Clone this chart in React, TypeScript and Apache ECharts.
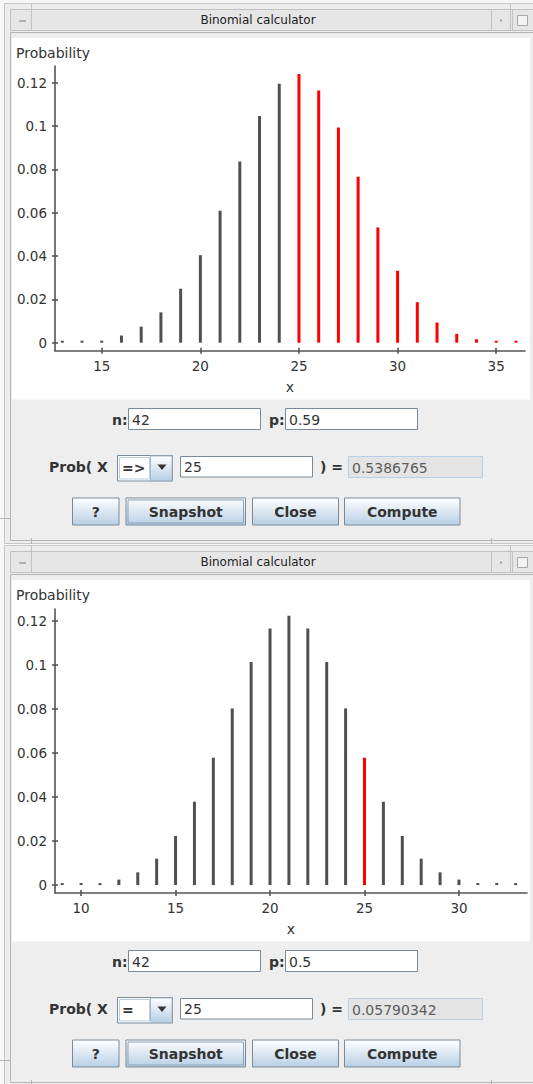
import React, { useEffect, useRef } from "react";
import * as echarts from "echarts";

// ---------- data ----------
const topX = [13, 14, 15, 16, 17, 18, 19, 20, 21, 22, 23, 24, 25, 26, 27, 28, 29, 30, 31, 32, 33, 34, 35, 36];
const topProb = [0.0001, 0.0003, 0.0009, 0.0033, 0.0074, 0.014, 0.0249, 0.0404, 0.0609, 0.0836, 0.1046, 0.1195, 0.124, 0.1164, 0.0993, 0.0766, 0.0532, 0.0332, 0.0187, 0.0093, 0.0041, 0.0016, 0.0005, 0.0002];
const botX = [9, 10, 11, 12, 13, 14, 15, 16, 17, 18, 19, 20, 21, 22, 23, 24, 25, 26, 27, 28, 29, 30, 31, 32, 33];
const botProb = [0.0001, 0.0003, 0.0009, 0.0025, 0.0058, 0.012, 0.0223, 0.0379, 0.0579, 0.0803, 0.1014, 0.1166, 0.1224, 0.1166, 0.1014, 0.0803, 0.0579, 0.0379, 0.0223, 0.012, 0.0058, 0.0025, 0.0009, 0.0003, 0.0001];
const selectedX = 25;

const yTicks = [0, 0.02, 0.04, 0.06, 0.08, 0.1, 0.12];
const topXTicks = [15, 20, 25, 30, 35];
const botXTicks = [10, 15, 20, 25, 30];

const windowTitle = "Binomial calculator";
const yName = "Probability";
const xName = "x";
const nValues = ["42", "42"];
const pValues = ["0.59", "0.5"];
const opValues = ["=>", "="];
const xValues = ["25", "25"];
const resultValues = ["0.5386765", "0.05790342"];
const buttonLabels = ["?", "Snapshot", "Close", "Compute"];

// ---------- style ----------
const FONT = "'DejaVu Sans', 'Noto Sans', sans-serif";
const GRAY = "#505050";
const RED = "#ff0000";
const AXIS = "#555555";
const TXT = "#333333";
const OFFSET = 542;

function chrome(dy: number) {
  const L = (x1: number, y1: number, x2: number, y2: number, stroke = "#c2c2c2", lw = 1) => ({
    type: "line",
    z: -10,
    shape: { x1, y1: y1 + dy, x2, y2: y2 + dy },
    style: { stroke, lineWidth: lw },
  });
  return [
    { type: "rect", z: -20, shape: { x: 4.5, y: 3.5 + dy, width: 540, height: 540 }, style: { fill: "#ededed", stroke: "#c6c6c6", lineWidth: 1 } },
    { type: "rect", z: -19, shape: { x: 10.5, y: 9.5 + dy, width: 530, height: 21 }, style: { fill: "#e6e6e6", stroke: "#c0c0c0", lineWidth: 1 } },
    L(31.5, 3.5, 31.5, 30.5),
    L(491.5, 9.5, 491.5, 30.5),
    L(510.5, 3.5, 510.5, 30.5),
    L(512.5, 9.5, 512.5, 30.5),
    L(19, 21, 26, 21, "#9b9b9b", 1.5),
    { type: "rect", z: -10, shape: { x: 500, y: 19.5 + dy, width: 2, height: 2 }, style: { fill: "#a0a0a0" } },
    { type: "rect", z: -10, shape: { x: 517.5, y: 15.5 + dy, width: 10, height: 10 }, style: { fill: "#f3f3f3", stroke: "#a8a8a8", lineWidth: 1 } },
    {
      type: "text",
      z: -10,
      x: 258,
      y: 20 + dy,
      style: { text: windowTitle, fill: "#222", fontSize: 12, fontFamily: FONT, align: "center", verticalAlign: "middle" },
    },
    { type: "rect", z: -18, shape: { x: 10.5, y: 32.5 + dy, width: 530, height: 508 }, style: { fill: "#eeeeee", stroke: "#b4b4b4", lineWidth: 1 } },
    { type: "rect", z: -17, shape: { x: 12, y: 38 + dy, width: 518, height: 361.5 }, style: { fill: "#ffffff" } },
    L(0, 518.5, 10, 518.5, "#b4b4b4"),
    L(31.5, 538, 31.5, 544, "#b4b4b4"),
    L(491.5, 538, 491.5, 544, "#b4b4b4"),
    {
      type: "text",
      z: 5,
      x: 16,
      y: 53 + dy,
      style: { text: yName, fill: TXT, fontSize: 14, fontFamily: FONT, align: "left", verticalAlign: "middle" },
    },
  ];
}

function controls(i: number, dy: number) {
  const lab = (x: number, y: number, t: string, align = "right") => ({
    type: "text",
    x,
    y: y + dy,
    style: { text: t, fill: TXT, fontSize: 14, fontWeight: "bold", fontFamily: FONT, align, verticalAlign: "middle" },
  });
  const field = (x: number, y: number, w: number, h: number, t: string, disabled = false) => [
    {
      type: "rect",
      shape: { x: x + 0.5, y: y + 0.5 + dy, width: w, height: h },
      style: { fill: disabled ? "#e4e4e4" : "#ffffff", stroke: disabled ? "#b8cfe5" : "#7a8a99", lineWidth: 1 },
    },
    {
      type: "text",
      x: x + 4,
      y: y + h / 2 + 1 + dy,
      style: { text: t, fill: disabled ? "#5c5c5c" : TXT, fontSize: 14, fontFamily: FONT, align: "left", verticalAlign: "middle" },
    },
  ];
  const grad = () =>
    new echarts.graphic.LinearGradient(0, 0, 0, 1, [
      { offset: 0, color: "#ffffff" },
      { offset: 1, color: "#b8cfe5" },
    ]);
  const btnGeom = [
    [72.5, 46.5],
    [126, 119.5],
    [252.5, 86],
    [344.5, 115.5],
  ];
  const els: any[] = [];
  els.push(lab(127.5, 419.5, "n:"));
  els.push(...field(128, 408, 132, 21, nValues[i]));
  els.push(lab(284.5, 419.5, "p:"));
  els.push(...field(285, 408, 132, 21, pValues[i]));
  els.push(lab(49, 467, "Prob( X", "left"));
  // combo box
  els.push({ type: "rect", shape: { x: 117.5, y: 455.5 + dy, width: 55, height: 25.5 }, style: { fill: "#ffffff", stroke: "#7a8a99", lineWidth: 1 } });
  els.push({ type: "rect", shape: { x: 119.5, y: 457.5 + dy, width: 30, height: 21.5 }, style: { fill: "#ffffff", stroke: "#b8cfe5", lineWidth: 1 } });
  els.push({ type: "rect", shape: { x: 150.5, y: 456 + dy, width: 21.5, height: 24.5 }, style: { fill: grad(), stroke: "#a3b8cc", lineWidth: 1 } });
  els.push({ type: "polygon", shape: { points: [[157.5, 464.5 + dy], [166.5, 464.5 + dy], [162, 470 + dy]] }, style: { fill: "#333333" } });
  els.push({
    type: "text",
    x: 122,
    y: 467.5 + dy,
    style: { text: opValues[i], fill: TXT, fontSize: 14, fontWeight: "bold", fontFamily: FONT, align: "left", verticalAlign: "middle" },
  });
  els.push(...field(180, 456, 132, 20.5, xValues[i]));
  els.push(lab(320, 467, ") =", "left"));
  els.push(...field(348, 456, 134, 21, resultValues[i], true));
  buttonLabels.forEach((b, k) => {
    const [bx, bw] = btnGeom[k];
    els.push({ type: "rect", shape: { x: bx, y: 498 + dy, width: bw, height: 27 }, style: { fill: grad(), stroke: "#7a8a99", lineWidth: 1 } });
    if (b === "Snapshot") {
      els.push({ type: "rect", shape: { x: bx + 2, y: 500 + dy, width: bw - 4, height: 23 }, style: { fill: "none", stroke: "#8aa3bd", lineWidth: 1 } });
    }
    els.push({
      type: "text",
      x: bx + bw / 2,
      y: 512 + dy,
      style: { text: b, fill: TXT, fontSize: 14, fontWeight: "bold", fontFamily: FONT, align: "center", verticalAlign: "middle" },
    });
  });
  return els;
}

function axesFor(gridIndex: number, xmin: number, xmax: number, ymin: number, ymax: number, xticks: number[]) {
  const lineStyle = { color: AXIS, width: 1.6 };
  const labelStyle = { color: TXT, fontSize: 13.5, fontFamily: FONT };
  const xA = [
    {
      type: "value",
      gridIndex,
      min: xmin,
      max: xmax,
      position: "bottom",
      name: xName,
      nameLocation: "middle",
      nameGap: 29,
      nameTextStyle: { color: TXT, fontSize: 14, fontFamily: FONT },
      axisLine: { show: true, onZero: false, lineStyle },
      axisTick: { show: true, length: 3, customValues: xticks, lineStyle },
      axisLabel: { show: true, margin: 8, customValues: xticks, formatter: (v: number) => String(v), ...labelStyle },
      splitLine: { show: false },
    },
    {
      type: "value",
      gridIndex,
      min: xmin,
      max: xmax,
      position: "bottom",
      axisLine: { show: false, onZero: false },
      axisTick: { show: true, inside: true, length: 3, customValues: xticks, lineStyle },
      axisLabel: { show: false },
      splitLine: { show: false },
    },
  ];
  const yA = [
    {
      type: "value",
      gridIndex,
      min: ymin,
      max: ymax,
      position: "left",
      axisLine: { show: true, onZero: false, lineStyle },
      axisTick: { show: true, length: 3, customValues: yTicks, lineStyle },
      axisLabel: { show: true, margin: 8, customValues: yTicks, formatter: (v: number) => String(v), ...labelStyle },
      splitLine: { show: false },
    },
    {
      type: "value",
      gridIndex,
      min: ymin,
      max: ymax,
      position: "left",
      offset: 0,
      axisLine: { show: false, onZero: false },
      axisTick: { show: true, inside: true, length: 3, customValues: yTicks, lineStyle },
      axisLabel: { show: false },
      splitLine: { show: false },
    },
  ];
  return { xA, yA };
}

export default function App() {
  const ref = useRef<HTMLDivElement>(null);
  useEffect(() => {
    if (!ref.current) return;
    const chart = echarts.init(ref.current, undefined, { renderer: "svg" });
    const a0 = axesFor(0, 12.63, 36.46, -0.0037, 0.1277, topXTicks);
    const a1 = axesFor(1, 8.62, 33.6, -0.0036, 0.1255, botXTicks);
    const topData = topX.map((x, k) => ({ value: [x, topProb[k]], itemStyle: { color: x >= selectedX ? RED : GRAY } }));
    const botData = botX.map((x, k) => ({ value: [x, botProb[k]], itemStyle: { color: x === selectedX ? RED : GRAY } }));
    chart.setOption({
      animation: false,
      backgroundColor: "#f7f7f7",
      textStyle: { fontFamily: FONT },
      grid: [
        { left: 55, top: 66, width: 470, height: 284.7, containLabel: false },
        { left: 55, top: 609, width: 472, height: 284, containLabel: false },
      ],
      xAxis: [...a0.xA, ...a1.xA],
      yAxis: [...a0.yA, ...a1.yA],
      series: [
        { type: "bar", xAxisIndex: 0, yAxisIndex: 0, data: topData, barWidth: 3, barMinHeight: 2, z: 3 },
        { type: "bar", xAxisIndex: 2, yAxisIndex: 2, data: botData, barWidth: 3, barMinHeight: 2, z: 3 },
      ],
      graphic: [...chrome(0), ...chrome(OFFSET), ...controls(0, 0), ...controls(1, OFFSET)],
    });
    return () => chart.dispose();
  }, []);
  return <div ref={ref} style={{ position: "fixed", left: 0, top: 0, width: 533, height: 1084 }} />;
}
